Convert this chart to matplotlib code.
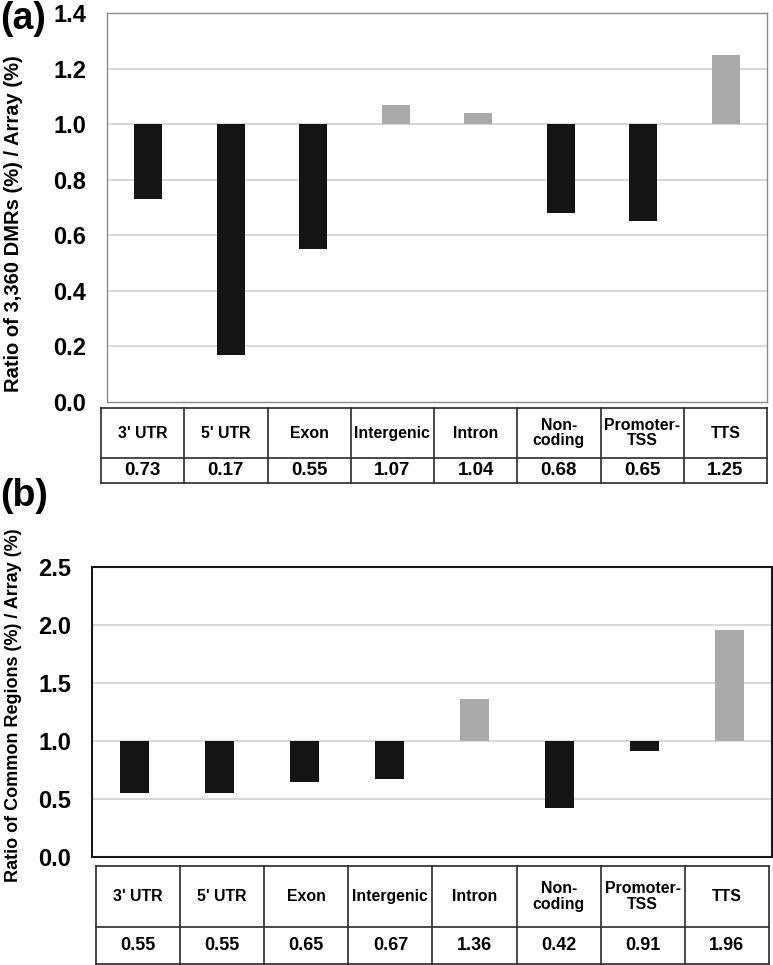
import matplotlib
matplotlib.use("Agg")
import matplotlib.pyplot as plt
import numpy as np

plt.rcParams['font.family'] = ['Liberation Sans', 'DejaVu Sans']
plt.rcParams['font.weight'] = 'bold'

categories = ["3' UTR", "5' UTR", "Exon", "Intergenic", "Intron", "Non-\ncoding", "Promoter-\nTSS", "TTS"]
values_a = [0.73, 0.17, 0.55, 1.07, 1.04, 0.68, 0.65, 1.25]
values_b = [0.55, 0.55, 0.65, 0.67, 1.36, 0.42, 0.91, 1.96]
labels_a = ["0.73", "0.17", "0.55", "1.07", "1.04", "0.68", "0.65", "1.25"]
labels_b = ["0.55", "0.55", "0.65", "0.67", "1.36", "0.42", "0.91", "1.96"]
yticks_a = [0.0, 0.2, 0.4, 0.6, 0.8, 1.0, 1.2, 1.4]
yticks_b = [0.0, 0.5, 1.0, 1.5, 2.0, 2.5]
ylabel_a = "Ratio of 3,360 DMRs (%) / Array (%)"
ylabel_b = "Ratio of Common Regions (%) / Array (%)"

DARK = '#141414'
LIGHT = '#aaaaaa'
GRID = '#d4d4d4'

W, H = 773, 965
fig = plt.figure(figsize=(W / 100, H / 100), dpi=100)


def draw_panel(ax_rect, tab_rect, vals, labels, yticks, ylabel, frame_color, frame_lw,
               row_split, label_pos, label_size, val_size):
    ax = fig.add_axes(ax_rect)
    x = np.arange(len(categories))
    heights = [v - 1.0 for v in vals]
    colors = [LIGHT if v > 1 else DARK for v in vals]
    ax.bar(x, heights, bottom=1.0, width=0.34, color=colors, zorder=3)
    ax.set_xlim(-0.5, len(categories) - 0.5)
    ax.set_ylim(yticks[0], yticks[-1])
    ax.set_yticks(yticks)
    ax.set_yticklabels(['{:.1f}'.format(t) for t in yticks], fontsize=17, fontweight='bold')
    ax.tick_params(axis='y', length=0, pad=15)
    ax.set_xticks([])
    for t in yticks[1:-1]:
        ax.axhline(t, color=GRID, lw=1.3, zorder=1)
    for s in ax.spines.values():
        s.set_color(frame_color)
        s.set_linewidth(frame_lw)
    fig.text(label_pos[0] / W, 1 - label_pos[1] / H, ylabel, rotation=90, ha='center',
             va='center', fontsize=label_size, fontweight='bold')

    tab = fig.add_axes(tab_rect)
    n = len(categories)
    tab.set_xlim(0, n)
    tab.set_ylim(0, 1)
    tab.axis('off')
    lc = '#2a2a2a'
    for i in range(n + 1):
        tab.plot([i, i], [0, 1], color=lc, lw=1.2, clip_on=False)
    for yy in (0, row_split, 1):
        tab.plot([0, n], [yy, yy], color=lc, lw=1.2, clip_on=False)
    for i, (c, l) in enumerate(zip(categories, labels)):
        tab.text(i + 0.5, (1 + row_split) / 2, c, ha='center', va='center', fontsize=11.4,
                 fontweight='bold', linespacing=1.05)
        tab.text(i + 0.5, row_split / 2, l, ha='center', va='center', fontsize=val_size,
                 fontweight='bold')
    return ax


draw_panel([0.1384, 0.5834, 0.8538, 0.4031], [0.1307, 0.4995, 0.8616, 0.0777],
           values_a, labels_a, yticks_a, ylabel_a, '#8a8a8a', 1.0, 0.333, (14, 224), 14.5, 13.5)
draw_panel([0.119, 0.1119, 0.8797, 0.3005], [0.1242, 0.001, 0.8706, 0.1015],
           values_b, labels_b, yticks_b, ylabel_b, '#1a1a1a', 1.5, 0.378, (14, 705), 13, 13)

fig.text(0.0, 0.999, "(a)", ha='left', va='top', fontsize=27, fontweight='bold')
fig.text(0.0, 0.505, "(b)", ha='left', va='top', fontsize=27, fontweight='bold')

fig.savefig("out.png", dpi=100)
